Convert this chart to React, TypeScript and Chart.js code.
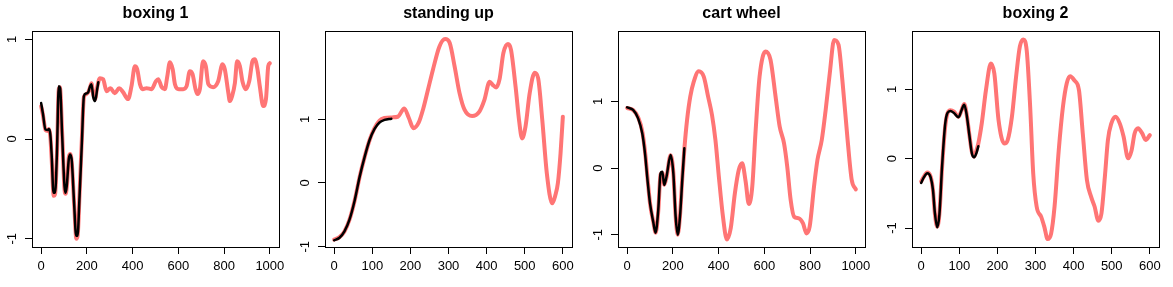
import React, { useEffect, useRef } from "react";
import { Chart, registerables } from "chart.js";

Chart.register(...registerables);

// ---------- Data ----------
const panelTitles = ["boxing 1", "standing up", "cart wheel", "boxing 2"];
const yTickValues = [-1, 0, 1];
const xTicks1000 = [0, 200, 400, 600, 800, 1000];
const xTicks600 = [0, 100, 200, 300, 400, 500, 600];

// boxing 1
const boxing1RedX = [0, 8, 19, 29, 34, 40, 46, 55, 61, 69, 77, 82, 92, 102, 107, 113, 121, 127, 134, 145, 154, 160, 168, 178, 187, 197, 206, 214, 220, 228, 236, 245, 257, 271, 286, 303, 322, 341, 358, 380, 395, 410, 420, 432, 444, 461, 483, 502, 512, 527, 541, 551, 563, 575, 585, 602, 621, 636, 650, 662, 675, 684, 694, 708, 720, 731, 752, 774, 793, 803, 818, 825, 835, 847, 857, 869, 880, 895, 910, 924, 934, 945, 956, 971, 983, 993, 1000];
const boxing1RedY = [0.33, 0.24, 0.09, 0.08, 0.1, 0.03, -0.2, -0.57, -0.55, -0.16, 0.5, 0.52, 0.05, -0.5, -0.55, -0.46, -0.18, -0.15, -0.24, -0.68, -1.0, -0.96, -0.55, 0.0, 0.42, 0.45, 0.47, 0.52, 0.56, 0.44, 0.4, 0.52, 0.61, 0.6, 0.48, 0.51, 0.46, 0.51, 0.47, 0.4, 0.53, 0.73, 0.7, 0.55, 0.5, 0.51, 0.5, 0.58, 0.6, 0.52, 0.5, 0.62, 0.77, 0.7, 0.55, 0.5, 0.5, 0.53, 0.68, 0.65, 0.5, 0.45, 0.5, 0.78, 0.73, 0.55, 0.52, 0.58, 0.75, 0.7, 0.47, 0.38, 0.43, 0.56, 0.78, 0.73, 0.58, 0.5, 0.58, 0.78, 0.8, 0.71, 0.53, 0.33, 0.4, 0.73, 0.76];
const boxing1BlackX = [0, 8, 19, 29, 34, 40, 46, 54, 61, 69, 77, 83, 92, 102, 107, 112, 121, 127, 134, 144, 153, 159, 168, 178, 187, 197, 206, 214, 220, 228, 236, 245, 250];
const boxing1BlackY = [0.36, 0.25, 0.095, 0.09, 0.1, 0.05, -0.16, -0.54, -0.54, -0.14, 0.53, 0.51, 0.03, -0.47, -0.54, -0.47, -0.2, -0.155, -0.22, -0.64, -0.97, -0.97, -0.57, -0.04, 0.43, 0.456, 0.47, 0.53, 0.55, 0.42, 0.38, 0.5, 0.57];

// standing up
const standingRedX = [0, 14, 27, 40, 54, 67, 80, 93, 106, 119, 132, 152, 167, 184, 196, 208, 222, 233, 246, 259, 276, 291, 303, 316, 329, 342, 362, 381, 394, 408, 416, 425, 434, 444, 456, 464, 476, 486, 493, 502, 513, 526, 535, 546, 558, 572, 580, 587, 594, 600];
const standingRedY = [-0.89, -0.85, -0.76, -0.58, -0.27, 0.1, 0.41, 0.675, 0.86, 0.98, 1.02, 1.03, 1.04, 1.17, 1.02, 0.86, 0.95, 1.15, 1.46, 1.775, 2.14, 2.26, 2.2, 1.83, 1.41, 1.15, 1.05, 1.12, 1.3, 1.59, 1.54, 1.5, 1.63, 2.04, 2.18, 2.09, 1.51, 0.94, 0.7, 0.885, 1.41, 1.73, 1.65, 0.99, 0.15, -0.32, -0.2, 0.0, 0.47, 1.04];
const standingBlackX = [0, 14, 27, 40, 54, 67, 80, 93, 106, 119, 132, 150];
const standingBlackY = [-0.9, -0.86, -0.76, -0.58, -0.27, 0.1, 0.41, 0.675, 0.85, 0.95, 0.99, 1.01];

// cart wheel
const cartRedX = [0, 26, 48, 66, 78, 89, 100, 114, 125, 136, 146, 154, 162, 172, 190, 202, 212, 221, 231, 241, 251, 262, 276, 291, 313, 335, 354, 371, 386, 401, 419, 436, 453, 471, 488, 503, 518, 532, 547, 561, 579, 605, 627, 649, 667, 686, 700, 715, 730, 751, 769, 784, 798, 817, 832, 851, 868, 886, 905, 924, 941, 964, 982, 1000];
const cartRedY = [0.9, 0.87, 0.76, 0.55, 0.25, -0.15, -0.53, -0.8, -0.97, -0.65, -0.1, -0.07, -0.25, -0.14, 0.19, -0.07, -0.72, -1.0, -0.72, -0.16, 0.32, 0.72, 1.07, 1.29, 1.45, 1.37, 1.07, 0.795, 0.42, -0.13, -0.73, -1.07, -0.9, -0.38, -0.03, 0.07, -0.2, -0.54, -0.28, 0.52, 1.37, 1.745, 1.62, 1.07, 0.62, 0.37, 0.02, -0.48, -0.73, -0.755, -0.83, -0.98, -0.88, -0.28, 0.12, 0.42, 0.87, 1.42, 1.92, 1.85, 1.32, 0.42, -0.18, -0.32];
const cartBlackX = [0, 26, 48, 66, 78, 89, 100, 114, 124, 136, 146, 154, 162, 172, 190, 202, 212, 221, 231, 241, 250];
const cartBlackY = [0.91, 0.87, 0.745, 0.52, 0.22, -0.18, -0.53, -0.805, -0.97, -0.63, -0.08, -0.055, -0.255, -0.13, 0.195, -0.08, -0.73, -1.0, -0.73, -0.18, 0.295];

// boxing 2
const boxing2RedX = [0, 7, 16, 25, 31, 36, 42, 48, 55, 63, 69, 77, 86, 98, 106, 113, 119, 126, 133, 139, 145, 150, 159, 170, 183, 192, 203, 218, 227, 238, 249, 259, 268, 277, 286, 294, 303, 315, 323, 332, 341, 350, 361, 372, 382, 391, 402, 414, 424, 435, 446, 455, 465, 473, 482, 490, 499, 510, 521, 531, 543, 552, 560, 569, 580, 589, 600];
const boxing2RedY = [-0.33, -0.26, -0.2, -0.26, -0.45, -0.79, -0.98, -0.79, -0.115, 0.46, 0.655, 0.7, 0.68, 0.605, 0.7, 0.79, 0.655, 0.365, 0.1, 0.03, 0.12, 0.22, 0.51, 0.99, 1.375, 1.23, 0.56, 0.22, 0.27, 0.6, 1.18, 1.62, 1.72, 1.56, 0.75, -0.21, -0.69, -0.84, -0.98, -1.16, -1.08, -0.69, 0.125, 0.75, 1.09, 1.19, 1.13, 0.99, 0.365, -0.31, -0.55, -0.69, -0.895, -0.79, -0.26, 0.27, 0.51, 0.605, 0.51, 0.32, 0.005, 0.12, 0.365, 0.44, 0.365, 0.27, 0.34];
const boxing2BlackX = [0, 7, 16, 25, 31, 36, 42, 48, 55, 63, 69, 77, 86, 98, 106, 113, 119, 126, 133, 139, 145, 150];
const boxing2BlackY = [-0.35, -0.27, -0.21, -0.27, -0.45, -0.78, -0.99, -0.8, -0.1, 0.5, 0.66, 0.69, 0.66, 0.6, 0.7, 0.78, 0.65, 0.36, 0.08, 0.02, 0.08, 0.18];

// axis ranges (R style: data range padded by 4%)
const xRanges = [[-40, 1040], [-24, 624], [-40, 1040], [-24, 624]];
const yRanges = [[-1.083, 1.083], [-1.005, 2.386], [-1.184, 2.054], [-1.274, 1.843]];

// ---------- Chart building ----------
const FONT = "'Liberation Sans', Arial, Helvetica, sans-serif";
const RED = "rgb(255,117,117)";

type Panel = {
  title: string;
  redX: number[]; redY: number[];
  blackX: number[]; blackY: number[];
  xTicks: number[];
  xRange: number[]; yRange: number[];
  left: number; width: number; yAxisWidth: number;
};

const panels: Panel[] = [
  { title: panelTitles[0], redX: boxing1RedX, redY: boxing1RedY, blackX: boxing1BlackX, blackY: boxing1BlackY, xTicks: xTicks1000, xRange: xRanges[0], yRange: yRanges[0], left: 0, width: 293, yAxisWidth: 32 },
  { title: panelTitles[1], redX: standingRedX, redY: standingRedY, blackX: standingBlackX, blackY: standingBlackY, xTicks: xTicks600, xRange: xRanges[1], yRange: yRanges[1], left: 293, width: 293, yAxisWidth: 32 },
  { title: panelTitles[2], redX: cartRedX, redY: cartRedY, blackX: cartBlackX, blackY: cartBlackY, xTicks: xTicks1000, xRange: xRanges[2], yRange: yRanges[2], left: 586, width: 293, yAxisWidth: 32 },
  { title: panelTitles[3], redX: boxing2RedX, redY: boxing2RedY, blackX: boxing2BlackX, blackY: boxing2BlackY, xTicks: xTicks600, xRange: xRanges[3], yRange: yRanges[3], left: 879, width: 294, yAxisWidth: 33 },
];

const toPoints = (xs: number[], ys: number[]) => xs.map((x, i) => ({ x, y: ys[i] }));

const boxPlugin = {
  id: "rBox",
  afterDraw(chart: any) {
    const { ctx, chartArea } = chart;
    const l = Math.round(chartArea.left);
    const t = Math.round(chartArea.top);
    const r = Math.round(chartArea.right);
    const b = Math.round(chartArea.bottom);
    ctx.save();
    ctx.strokeStyle = "#000";
    ctx.lineWidth = 1;
    ctx.strokeRect(l + 0.5, t + 0.5, r - l, b - t);
    ctx.restore();
  },
};

function PanelChart({ p }: { p: Panel }) {
  const ref = useRef<HTMLCanvasElement | null>(null);
  useEffect(() => {
    if (!ref.current) return;
    const chart = new Chart(ref.current, {
      type: "line",
      data: {
        datasets: [
          {
            data: toPoints(p.blackX, p.blackY),
            borderColor: "#000",
            borderWidth: 2.5,
            pointRadius: 0,
            cubicInterpolationMode: "monotone",
            borderCapStyle: "round",
            borderJoinStyle: "round",
          },
          {
            data: toPoints(p.redX, p.redY),
            borderColor: RED,
            borderWidth: 4,
            pointRadius: 0,
            cubicInterpolationMode: "monotone",
            borderCapStyle: "round",
            borderJoinStyle: "round",
          },
        ],
      },
      options: {
        responsive: false,
        animation: false,
        events: [],
        layout: { padding: { left: 0, right: 14, top: 0, bottom: 0 } },
        plugins: {
          legend: { display: false },
          tooltip: { enabled: false },
          title: {
            display: true,
            text: p.title,
            fullSize: false,
            color: "#000",
            font: { family: FONT, size: 16, weight: "bold" },
            padding: { top: 4.2, bottom: 7.6 },
          },
        },
        scales: {
          x: {
            type: "linear",
            min: p.xRange[0],
            max: p.xRange[1],
            afterFit: (s: any) => { s.height = 40; },
            afterBuildTicks: (s: any) => { s.ticks = p.xTicks.map((v) => ({ value: v })); },
            grid: { drawOnChartArea: false, drawTicks: true, tickLength: 7, color: "#000", lineWidth: 1 },
            border: { display: false },
            ticks: {
              color: "#000",
              font: { family: FONT, size: 13 },
              padding: 5,
              autoSkip: false,
              maxRotation: 0,
              minRotation: 0,
              callback: (v: any) => String(v),
            },
          },
          y: {
            type: "linear",
            min: p.yRange[0],
            max: p.yRange[1],
            afterFit: (s: any) => { s.width = p.yAxisWidth; },
            afterBuildTicks: (s: any) => { s.ticks = yTickValues.map((v) => ({ value: v })); },
            grid: { drawOnChartArea: false, drawTicks: true, tickLength: 7, color: "#000", lineWidth: 1 },
            border: { display: false },
            ticks: {
              color: "#000",
              font: { family: FONT, size: 13 },
              padding: 7,
              autoSkip: false,
              minRotation: 90,
              maxRotation: 90,
              crossAlign: "center",
              callback: (v: any) => String(v),
            },
          },
        },
      } as any,
      plugins: [boxPlugin],
    });
    return () => chart.destroy();
  }, [p]);
  return (
    <canvas
      ref={ref}
      width={p.width}
      height={287}
      style={{ position: "absolute", left: p.left, top: 0, width: p.width, height: 287 }}
    />
  );
}

export default function App() {
  return (
    <div style={{ position: "absolute", left: 0, top: 0, width: 1173, height: 287, background: "#fff", overflow: "hidden" }}>
      {panels.map((p) => (
        <PanelChart key={p.title} p={p} />
      ))}
    </div>
  );
}
